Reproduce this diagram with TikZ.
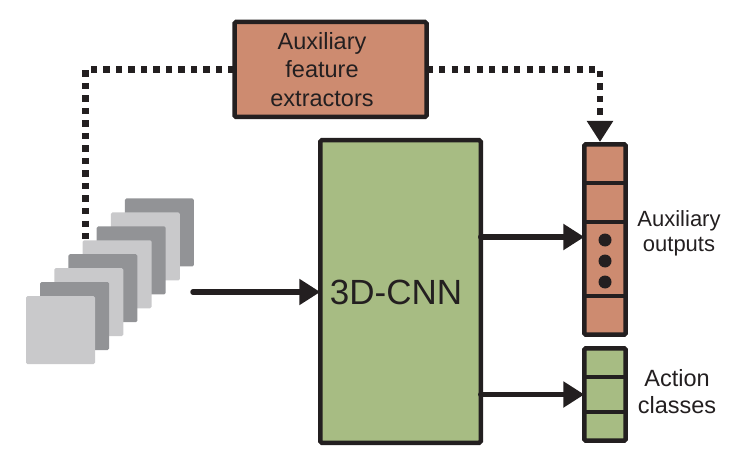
\documentclass[tikz,border=0pt]{standalone}
\usepackage{fontspec}
\setmainfont{Liberation Sans}
\usetikzlibrary{arrows.meta}
\definecolor{salmon}{HTML}{CD8B70}
\definecolor{leaf}{HTML}{A7BC83}
\definecolor{ink}{HTML}{231F20}
\definecolor{frameL}{HTML}{C9C9CB}
\definecolor{frameD}{HTML}{929396}
\begin{document}
\begin{tikzpicture}[x=1pt,y=-1pt,
  box/.style={draw=ink, line width=4.5pt, rounded corners=1.5pt, inner sep=0pt, outer sep=0pt},
  arr/.style={draw=ink, line width=5.5pt, line cap=round, -{Triangle[length=21pt,width=25pt]}},
  dotline/.style={draw=ink, line width=6.5pt, dash pattern=on 6.3pt off 6.2pt},
  divider/.style={draw=ink, line width=4.5pt},
  frame/.style={minimum width=69pt, minimum height=68pt, rounded corners=1.5pt, inner sep=0pt, outer sep=0pt},
  dot/.style={circle, fill=ink, minimum size=13pt, inner sep=0pt},
  lab/.style={align=center, inner sep=0pt, text=ink}
]
\useasboundingbox (0,0) rectangle (733,457);

% auxiliary feature extractors
\node[box, fill=salmon, minimum width=192pt, minimum height=95pt] (aux) at (330.5,69.5) {};
\node[lab, font=\fontsize{23.5}{28.5}\selectfont] (auxtxt) at (322,69.5)
      {Auxiliary\\feature\\extractors};

% columns (defined before dotted arrow)
\node[box, fill=salmon, minimum width=41.4pt, minimum height=190.4pt] (colS) at (605,239.5) {};
\node[box, fill=leaf, minimum width=41.4pt, minimum height=92.4pt] (colG) at (605,394.5) {};
\draw[divider] (colS.west |- 0,183) -- (colS.east |- 0,183);
\draw[divider] (colS.west |- 0,222) -- (colS.east |- 0,222);
\draw[divider] (colS.west |- 0,296) -- (colS.east |- 0,296);
\draw[divider] (colG.west |- 0,377) -- (colG.east |- 0,377);
\draw[divider] (colG.west |- 0,412) -- (colG.east |- 0,412);
\node[dot] (d1) at (605,240) {};
\node[dot] (d2) at (605,261) {};
\node[dot] (d3) at (605,282) {};

% dotted connectors
\coordinate (dl) at (85.5,242);
\draw[dotline] (aux.west) -| (dl);
\draw[dotline, -{Triangle[length=21pt,width=25pt]}] (aux.east) -| ([xshift=-5pt,yshift=2.3pt]colS.north);

% video frames
\foreach \i/\c in {7/frameD,6/frameL,5/frameD,4/frameL,3/frameD,2/frameL,1/frameD,0/frameL}
  \node[frame, fill=\c] (f\i) at ({60.5+14.14*\i},{330-13.93*\i}) {};

% 3D-CNN
\node[box, fill=leaf, minimum width=160.5pt, minimum height=302.5pt] (cnn) at (400.5,291.5) {};
\node[lab, font=\fontsize{35}{40}\selectfont] (cnnlab) at (396,292.5) {3D-CNN};

% arrows
\coordinate (src) at (193,292);
\draw[arr] (src) -- (cnn.west |- src);
\draw[arr] (cnn.east |- 0,237) -- (colS.west |- 0,237);
\draw[arr] (cnn.east |- colG.west) -- (colG.west);

% labels
\node[lab, font=\fontsize{22}{25}\selectfont] (auxlab) at (679,233) {Auxiliary\\outputs};
\node[lab, font=\fontsize{23.5}{27}\selectfont] (actlab) at (677,391.5) {Action\\classes};
\end{tikzpicture}
\end{document}
